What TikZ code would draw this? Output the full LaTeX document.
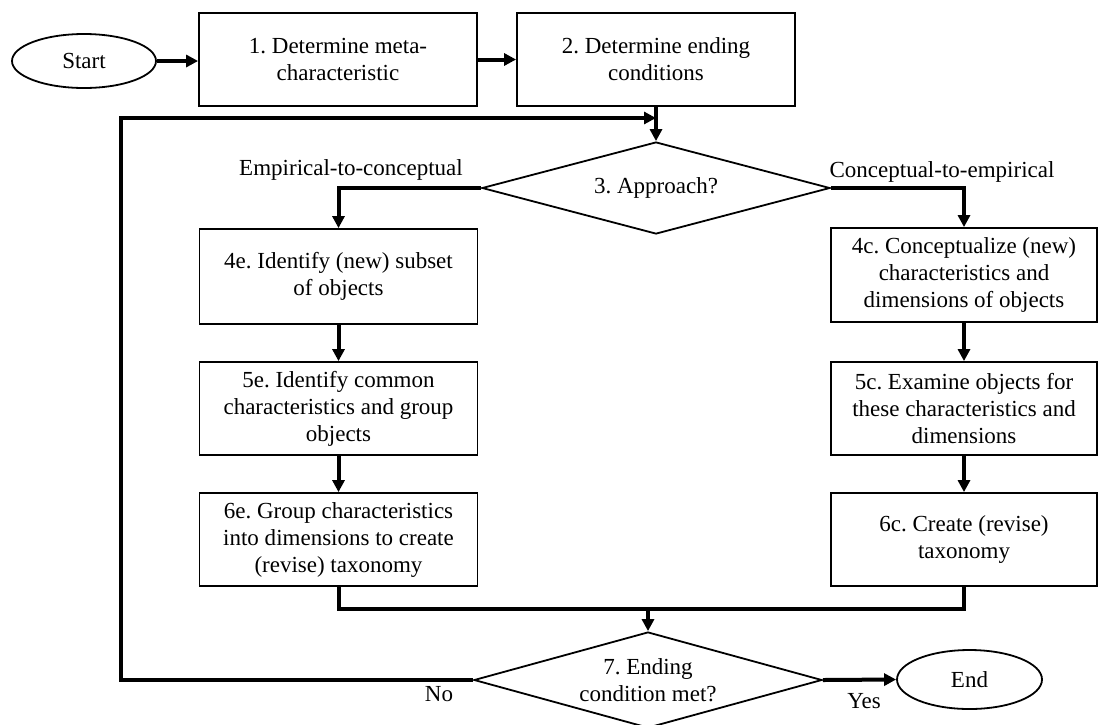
\documentclass[tikz,border=0pt]{standalone}
\usepackage{fontspec}
\setmainfont{Liberation Serif}
\usetikzlibrary{shapes.geometric,arrows.meta}
\frenchspacing
\tikzset{
  txt/.style={font=\fontsize{23}{27}\selectfont\frenchspacing, align=center, inner sep=0pt},
  stepbox/.style={txt, draw, line width=1.8pt, rectangle, minimum width=278pt, minimum height=93pt},
  rbox/.style={stepbox, minimum width=266pt},
  term/.style={txt, draw, line width=1.8pt, ellipse},
  decide/.style={txt, draw, line width=1.8pt, diamond, aspect=3.7},
  flow/.style={line width=4pt, -{Triangle[length=12pt,width=12pt]}},
  mergeline/.style={line width=4pt},
}
\begin{document}
\begin{tikzpicture}[x=1pt, y=-1pt]
\useasboundingbox (0,0) rectangle (1099,724);

\node[term, minimum width=144pt, minimum height=54pt] (start) at (84,61) {Start};
\node[stepbox] (b1) at (338,59.5) {1. Determine meta-\\characteristic};
\node[stepbox] (b2) at (656,59.5) {2. Determine ending\\conditions};

\node[decide, minimum width=348pt, minimum height=92pt] (d3) at (656,188) {3. Approach?};

\node[txt] (lblE) at (351,170) {Empirical-to-conceptual};
\node[txt] (lblC) at (942,172) {Conceptual-to-empirical};

\node[stepbox, minimum height=95pt] (e4) at (338.5,276.5) {4e. Identify (new) subset\\of objects};
\node[stepbox] (e5) at (338.5,408.5) {5e. Identify common\\characteristics and group\\objects};
\node[stepbox] (e6) at (338.5,539.5) {6e. Group characteristics\\into dimensions to create\\(revise) taxonomy};

\node[rbox, minimum height=94pt] (c4) at (964,275) {4c. Conceptualize (new)\\characteristics and\\dimensions of objects};
\node[rbox] (c5) at (964,408.5) {5c. Examine objects for\\these characteristics and\\dimensions};
\node[rbox] (c6) at (964,539.5) {6c. Create (revise)\\taxonomy};

\node[decide, minimum width=348pt, minimum height=96pt] (d7) at (648,680) {7. Ending\\condition met?};
\node[term, minimum width=145pt, minimum height=59pt] (end) at (969.5,679.5) {End};

\node[txt] (lblNo) at (439,694) {No};
\node[txt] (lblYes) at (864,701) {Yes};

\coordinate (loopL) at (121,118);
\coordinate (loopR) at (656,118);
\coordinate (merge) at (648,609);

\draw[flow] (start.east) -- (start.east -| b1.west);
\draw[flow] (b1) -- (b2);
\draw[flow] (b2) -- (d3);
\draw[flow] (d3.west) -| (e4.north);
\draw[flow] (d3.east) -| (c4.north);
\draw[flow] (e4) -- (e5);
\draw[flow] (e5) -- (e6);
\draw[flow] (c4) -- (c5);
\draw[flow] (c5) -- (c6);
\draw[mergeline] (e6.south) |- (merge) -| (c6.south);
\draw[flow] (merge) -- (d7.north);
\draw[flow] (d7.east) -- (end.west);
\draw[flow] (d7.west) -| (loopL) -- (loopR);
\end{tikzpicture}
\end{document}
